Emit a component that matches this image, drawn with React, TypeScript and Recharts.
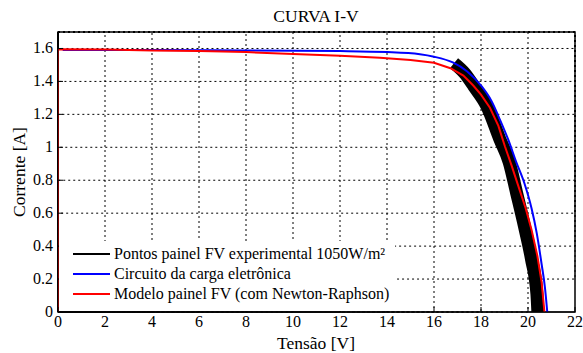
import {
  LineChart,
  Line,
  XAxis,
  YAxis,
  Legend,
  Label,
  ReferenceArea,
} from "recharts"

// Tensão [V] x Corrente [A]
const xTicks = [0, 2, 4, 6, 8, 10, 12, 14, 16, 18, 20, 22]
const yTicks = [0, 0.2, 0.4, 0.6, 0.8, 1, 1.2, 1.4, 1.6]

const expV = [16.85, 17.3, 17.7, 18.25, 18.8, 19.2, 19.52, 19.85, 20.15, 20.38, 20.42]
const expI = [1.51, 1.45, 1.37, 1.25, 1.05, 0.91, 0.72, 0.52, 0.32, 0.11, 0.0]

const cargaV = [0.2, 4, 8, 12, 14, 15.4, 16, 16.8, 17.4, 18, 18.45, 18.8, 19.16, 19.5, 19.85, 20.15, 20.37, 20.58, 20.72, 20.82]
const cargaI = [1.59, 1.59, 1.588, 1.584, 1.578, 1.565, 1.55, 1.515, 1.462, 1.375, 1.28, 1.17, 1.046, 0.91, 0.78, 0.63, 0.48, 0.29, 0.15, 0.0]

const modeloV = [0, 0, 2, 4, 6, 8, 10, 12, 13.7, 15, 16, 16.7, 17.25, 17.67, 18, 18.38, 18.74, 19.02, 19.3, 19.6, 19.9, 20.15, 20.4, 20.58, 20.7]
const modeloI = [0, 1.595, 1.594, 1.588, 1.585, 1.578, 1.567, 1.556, 1.543, 1.53, 1.513, 1.48, 1.435, 1.375, 1.32, 1.24, 1.13, 1.005, 0.89, 0.76, 0.63, 0.5, 0.34, 0.18, 0.0]

const seriesNames = [
  "Pontos painel FV experimental 1050W/m²",
  "Circuito da carga eletrônica",
  "Modelo painel FV (com Newton-Raphson)",
]
const seriesColors = ["#000000", "#0000ff", "#ff0000"]

const X_MAX = 22
const Y_MAX = 1.7

const toPoints = (xs: number[], ys: number[]) => xs.map((v, i) => ({ v, i: ys[i] }))

const expData = toPoints(expV, expI)
const cargaData = toPoints(cargaV, cargaI)
const modeloData = toPoints(modeloV, modeloI)

const FONT = "'Liberation Serif', 'Times New Roman', serif"
const txt = { fontFamily: FONT, fill: "#000" }

function XTick({ x, y, payload }: any) {
  return (
    <text x={x} y={y + 18} textAnchor="middle" fontSize={16} style={txt}>
      {payload.value}
    </text>
  )
}

function YTick({ x, y, payload }: any) {
  return (
    <text x={x - 8} y={y + 5} textAnchor="end" fontSize={16} style={txt}>
      {payload.value}
    </text>
  )
}

function LegendBox() {
  return (
    <div style={{ background: "#fff", width: 336, height: 70, fontFamily: FONT, fontSize: 16, color: "#000" }}>
      {seriesNames.map((name, k) => (
        <div key={name} style={{ position: "absolute", left: 14, top: 3 + k * 20, height: 20, display: "flex", alignItems: "center", whiteSpace: "nowrap" }}>
          <span style={{ display: "inline-block", width: 37, height: 2, background: seriesColors[k], marginRight: 4 }} />
          <span>{name}</span>
        </div>
      ))}
    </div>
  )
}

export default function App() {
  return (
    <div style={{ position: "absolute", left: 0, top: 0, background: "#fff", fontFamily: FONT }}>
      <LineChart width={583} height={353} margin={{ top: 32, right: 8, bottom: 0, left: 0 }}>
        <XAxis
          dataKey="v"
          type="number"
          domain={[0, X_MAX]}
          ticks={xTicks}
          allowDataOverflow
          height={41}
          tickSize={-5}
          stroke="#000"
          tick={<XTick />}
        >
          <Label
            content={() => (
              <g>
                <text x={316} y={349} textAnchor="middle" fontSize={17.5} style={txt}>
                  Tensão [V]
                </text>
                <text x={316} y={22} textAnchor="middle" fontSize={17.5} style={txt}>
                  CURVA I-V
                </text>
              </g>
            )}
          />
        </XAxis>
        <YAxis
          dataKey="i"
          type="number"
          domain={[0, Y_MAX]}
          ticks={yTicks}
          allowDataOverflow
          width={58}
          tickSize={-5}
          stroke="#000"
          tick={<YTick />}
        >
          <Label
            content={() => (
              <text x={19} y={172} transform="rotate(-90 19 172)" textAnchor="middle" dominantBaseline="central" fontSize={17.5} style={txt}>
                Corrente [A]
              </text>
            )}
          />
        </YAxis>
        {/* dotted grid: right edge of [0,t] areas and bottom edge of [t,max] areas */}
        {xTicks.slice(1, -1).map((t) => (
          <ReferenceArea key={"gx" + t} x1={0} x2={t} y1={0} y2={Y_MAX} fill="none" fillOpacity={0} stroke="#000" strokeWidth={1} strokeDasharray="2 3" />
        ))}
        {yTicks.slice(1).map((t) => (
          <ReferenceArea key={"gy" + t} x1={0} x2={X_MAX} y1={t} y2={Y_MAX} fill="none" fillOpacity={0} stroke="#000" strokeWidth={1} strokeDasharray="2 3" />
        ))}
        <ReferenceArea x1={0} x2={X_MAX} y1={0} y2={Y_MAX} fill="none" fillOpacity={0} stroke="#000" strokeWidth={1.5} />
        <Legend
          layout="horizontal"
          verticalAlign="middle"
          align="center"
          content={() => <LegendBox />}
          wrapperStyle={{ left: 59, top: 241, width: 336, height: 70 }}
        />
        <Line
          data={expData}
          dataKey="i"
          name={seriesNames[0]}
          stroke={seriesColors[0]}
          strokeWidth={13}
          strokeLinejoin="round"
          strokeLinecap="butt"
          dot={false}
          type="monotone"
          isAnimationActive={false}
        />
        <Line
          data={cargaData}
          dataKey="i"
          name={seriesNames[1]}
          stroke={seriesColors[1]}
          strokeWidth={2}
          dot={false}
          type="monotone"
          isAnimationActive={false}
        />
        <Line
          data={modeloData}
          dataKey="i"
          name={seriesNames[2]}
          stroke={seriesColors[2]}
          strokeWidth={2}
          dot={false}
          type="linear"
          isAnimationActive={false}
        />
      </LineChart>
    </div>
  )
}
